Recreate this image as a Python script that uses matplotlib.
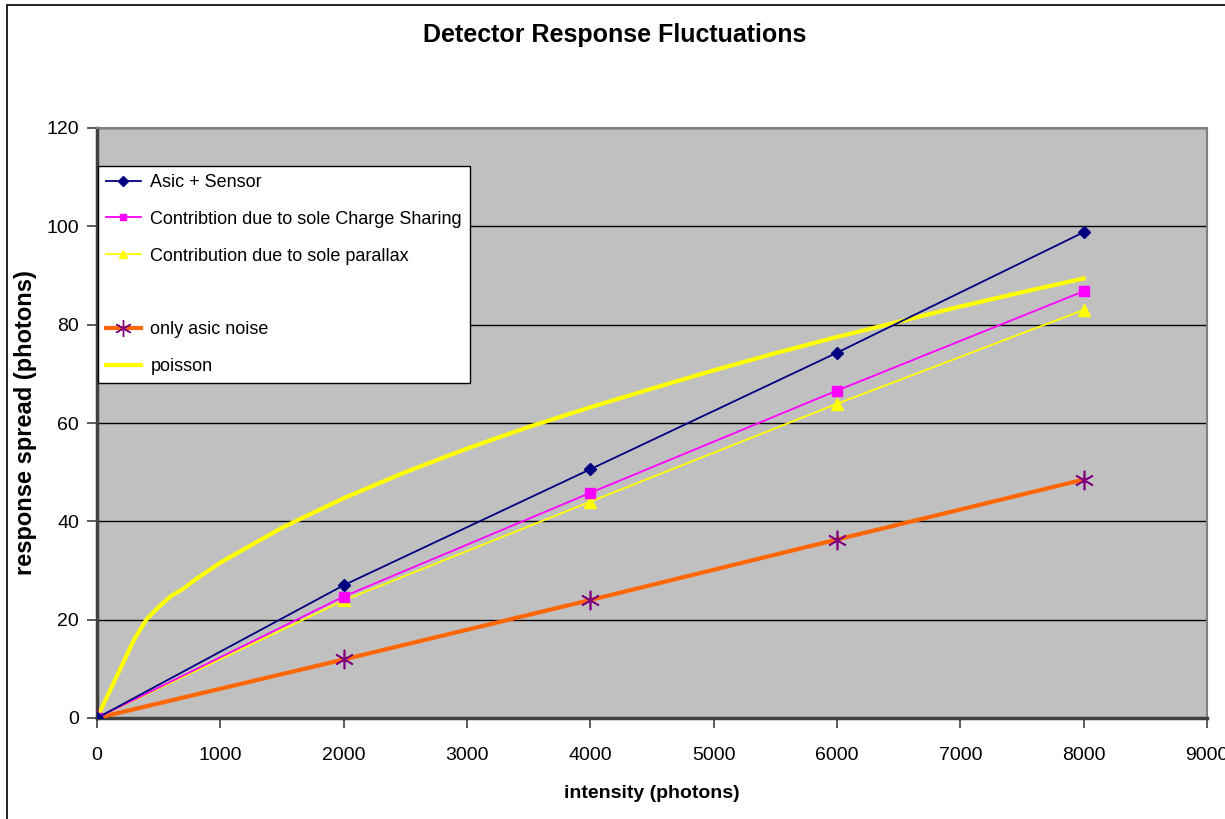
import numpy as np
import matplotlib.pyplot as plt
from matplotlib.lines import Line2D
from matplotlib.patches import Rectangle

plt.rcParams['font.family'] = ['Liberation Sans', 'DejaVu Sans']

# measured series
intensity = [0, 2000, 4000, 6000, 8000]
asic_sensor = [0, 27.0, 50.6, 74.3, 98.8]
charge_sharing = [0, 24.7, 45.8, 66.6, 86.8]
parallax = [0, 23.9, 44.0, 63.9, 83.0]
asic_noise = [0, 11.9, 24.0, 36.3, 48.5]

poisson_x = [0, 100, 200, 300, 400, 500, 600, 700, 800, 1000, 1500, 2000, 2500,
             3000, 3500, 4000, 4500, 5000, 5500, 6000, 6500, 7000, 7500, 8000]
poisson_y = [0, 5.3, 10.6, 15.9, 20.0, 22.6, 24.8, 26.3, 28.2, 31.6, 38.7, 44.7, 50.0,
             54.8, 59.2, 63.2, 67.0, 70.7, 74.2, 77.5, 80.6, 83.7, 86.6, 89.4]

fig = plt.figure(figsize=(12.25, 8.19), dpi=100)
ax = fig.add_axes([97/1225, 1-718/819, 1110/1225, 590/819])
ax.set_facecolor('#C0C0C0')

# frame around the whole chart
fig.patches.append(Rectangle((7/1225, -0.05), 1.1, 1-5/819+0.05, transform=fig.transFigure,
                             fill=False, edgecolor='black', linewidth=1.2))

ax.plot(poisson_x, poisson_y, color='#FFFF00', lw=3, zorder=3)
ax.plot(intensity, asic_noise, color='#FF6600', lw=3, marker=(6, 2, 0), ms=14,
        mec='#800080', mfc='#800080', mew=1.2, zorder=4)
ax.plot(intensity, parallax, color='#FFFF00', lw=1.3, marker='^', ms=8,
        mec='#FFFF00', mfc='#FFFF00', zorder=5)
ax.plot(intensity, charge_sharing, color='#FF00FF', lw=1.3, marker='s', ms=7,
        mec='#FF00FF', mfc='#FF00FF', zorder=6)
ax.plot(intensity, asic_sensor, color='#000080', lw=1.3, marker='D', ms=6,
        mec='#000080', mfc='#000080', zorder=7)

ax.set_xlim(0, 9000)
ax.set_ylim(0, 120)
ax.set_xticks(np.arange(0, 9001, 1000))
ax.set_yticks(np.arange(0, 121, 20))
ax.yaxis.grid(True, color='black', lw=1.0)
ax.set_axisbelow(True)
ax.tick_params(axis='both', labelsize=14, direction='out', length=7, width=1.2,
               color='#404040', pad=14)
ax.tick_params(axis='y', pad=6)
for side in ['top', 'right']:
    ax.spines[side].set_color('#808080')
    ax.spines[side].set_linewidth(1.5)
for side in ['left', 'bottom']:
    ax.spines[side].set_color('#404040')
    ax.spines[side].set_linewidth(2.5)

ax.set_xlabel('intensity (photons)', fontsize=14, fontweight='bold', labelpad=15)
ax.set_ylabel('response spread (photons)', fontsize=17, fontweight='bold', labelpad=7)
fig.text(615/1225, 1-35/819, 'Detector Response Fluctuations', fontsize=18,
         fontweight='bold', ha='center', va='center')

handles = [
    Line2D([], [], color='#000080', lw=1.3, marker='D', ms=5, mfc='#000080', mec='#000080'),
    Line2D([], [], color='#FF00FF', lw=1.3, marker='s', ms=5, mfc='#FF00FF', mec='#FF00FF'),
    Line2D([], [], color='#FFFF00', lw=1.3, marker='^', ms=6, mfc='#FFFF00', mec='#FFFF00'),
    Line2D([], [], color='none'),
    Line2D([], [], color='#FF6600', lw=3, marker=(6, 2, 0), ms=12, mfc='#800080', mec='#800080'),
    Line2D([], [], color='#FFFF00', lw=3),
]
labels = ['Asic + Sensor', 'Contribtion due to sole Charge Sharing',
          'Contribution due to sole parallax', ' ', 'only asic noise', 'poisson']
leg = ax.legend(handles, labels, loc='upper left', bbox_to_anchor=(0.001, 0.936),
                borderaxespad=0, fontsize=13, fancybox=False, framealpha=1,
                edgecolor='black', handlelength=1.9, handletextpad=0.55,
                labelspacing=1.1, borderpad=0.45)
leg.get_frame().set_linewidth(1.0)
leg.set_zorder(10)

fig.savefig('out.png', dpi=100)
